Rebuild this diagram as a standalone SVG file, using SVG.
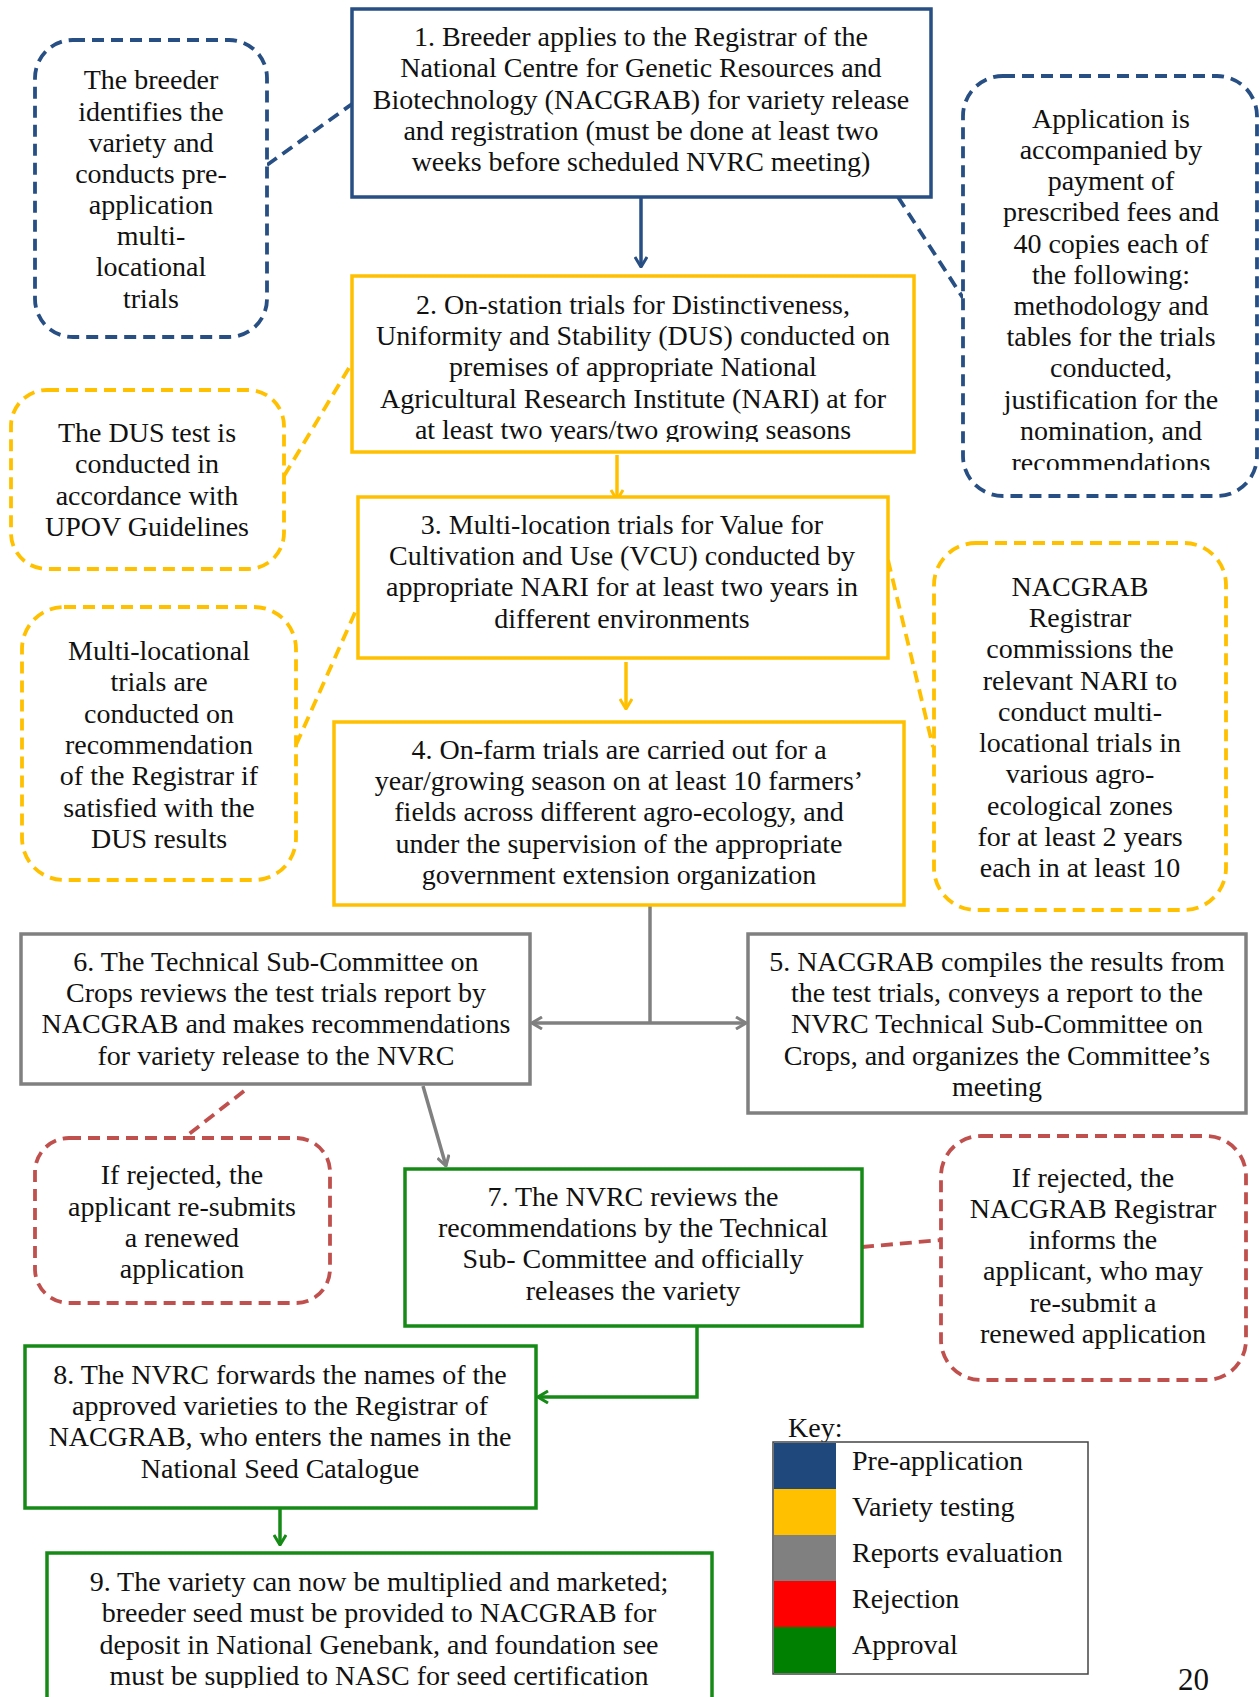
<svg xmlns="http://www.w3.org/2000/svg" width="1259" height="1697" viewBox="0 0 1259 1697">
<style>
.t{font-family:"Liberation Serif","DejaVu Serif",serif;font-size:28px;text-anchor:middle;fill:#111}
.k{font-family:"Liberation Serif","DejaVu Serif",serif;font-size:28px;fill:#111}
.bx{fill:#fff;stroke-width:3.5}
.nt{fill:#fff;stroke-width:3.8;stroke-dasharray:12 7}
.dl{fill:none;stroke-width:3.8;stroke-dasharray:12 7}
.ln{fill:none;stroke-width:3.5}
.blue{stroke:#274F83}
.yel{stroke:#FFC000}
.gry{stroke:#808080}
.grn{stroke:#168A16}
.red{stroke:#C0504D}
</style>
<defs>
<marker id="aB" viewBox="0 0 12 14" refX="11" refY="7" markerWidth="12" markerHeight="14" markerUnits="userSpaceOnUse" orient="auto"><path d="M1,1 L11,7 L1,13" fill="none" stroke="#274F83" stroke-width="3"/></marker>
<marker id="aY" viewBox="0 0 12 14" refX="11" refY="7" markerWidth="12" markerHeight="14" markerUnits="userSpaceOnUse" orient="auto"><path d="M1,1 L11,7 L1,13" fill="none" stroke="#FFC000" stroke-width="3"/></marker>
<marker id="aG" viewBox="0 0 12 14" refX="11" refY="7" markerWidth="12" markerHeight="14" markerUnits="userSpaceOnUse" orient="auto-start-reverse"><path d="M1,1 L11,7 L1,13" fill="none" stroke="#808080" stroke-width="3"/></marker>
<marker id="aN" viewBox="0 0 12 14" refX="11" refY="7" markerWidth="12" markerHeight="14" markerUnits="userSpaceOnUse" orient="auto"><path d="M1,1 L11,7 L1,13" fill="none" stroke="#168A16" stroke-width="3"/></marker>
<clipPath id="c2"><rect x="352" y="276" width="562" height="166"/></clipPath>
<clipPath id="cR"><rect x="963" y="76" width="294" height="394"/></clipPath>
<clipPath id="c9"><rect x="47" y="1553" width="665" height="135"/></clipPath>
</defs>
<rect width="1259" height="1697" fill="#fff"/>

<g id="connectors">
<line class="ln blue" x1="641" y1="197" x2="641" y2="267" marker-end="url(#aB)"/>
<line class="dl blue" x1="267" y1="165" x2="352" y2="104"/>
<line class="dl blue" x1="898" y1="197" x2="963" y2="298"/>
<line class="ln yel" x1="617" y1="455" x2="617" y2="500" marker-end="url(#aY)"/>
<line class="dl yel" x1="284" y1="476" x2="352" y2="363"/>
<line class="ln yel" x1="626" y1="662" x2="626" y2="709" marker-end="url(#aY)"/>
<line class="dl yel" x1="296" y1="745" x2="358" y2="606"/>
<line class="dl yel" x1="888" y1="560" x2="933" y2="747"/>
<line class="ln gry" x1="650" y1="905" x2="650" y2="1023"/>
<line class="ln gry" x1="532" y1="1023" x2="746" y2="1023" marker-start="url(#aG)" marker-end="url(#aG)"/>
<line class="ln gry" x1="423" y1="1086" x2="446" y2="1166" marker-end="url(#aG)"/>
<line class="dl red" x1="244" y1="1091" x2="184" y2="1138"/>
<line class="dl red" x1="862" y1="1247" x2="941" y2="1240"/>
<polyline class="ln grn" points="697,1326 697,1397 538,1397" marker-end="url(#aN)"/>
<line class="ln grn" x1="280" y1="1508" x2="280" y2="1545" marker-end="url(#aN)"/>
</g>

<g id="n1">
<rect class="bx blue" x="352" y="9" width="579" height="188"/>
<text class="t"><tspan x="641" y="46">1. Breeder applies to the Registrar of the</tspan><tspan x="641" y="77">National Centre for Genetic Resources and</tspan><tspan x="641" y="109">Biotechnology (NACGRAB) for variety release</tspan><tspan x="641" y="140">and registration (must be done at least two</tspan><tspan x="641" y="171">weeks before scheduled NVRC meeting)</tspan></text>
</g>

<g id="pre1">
<rect class="nt blue" x="35" y="40" width="232" height="297" rx="38"/>
<text class="t"><tspan x="151" y="89">The breeder</tspan><tspan x="151" y="121">identifies the</tspan><tspan x="151" y="152">variety and</tspan><tspan x="151" y="183">conducts pre-</tspan><tspan x="151" y="214">application</tspan><tspan x="151" y="245">multi-</tspan><tspan x="151" y="276">locational</tspan><tspan x="151" y="308">trials</tspan></text>
</g>

<g id="pre2">
<rect class="nt blue" x="963" y="76" width="294" height="420" rx="40"/>
<text class="t" clip-path="url(#cR)"><tspan x="1111" y="128">Application is</tspan><tspan x="1111" y="159">accompanied by</tspan><tspan x="1111" y="190">payment of</tspan><tspan x="1111" y="221">prescribed fees and</tspan><tspan x="1111" y="253">40 copies each of</tspan><tspan x="1111" y="284">the following:</tspan><tspan x="1111" y="315">methodology and</tspan><tspan x="1111" y="346">tables for the trials</tspan><tspan x="1111" y="377">conducted,</tspan><tspan x="1111" y="409">justification for the</tspan><tspan x="1111" y="440">nomination, and</tspan><tspan x="1111" y="472">recommendations</tspan></text>
</g>

<g id="n2">
<rect class="bx yel" x="352" y="276" width="562" height="176"/>
<text class="t" clip-path="url(#c2)"><tspan x="633" y="314">2. On-station trials for Distinctiveness,</tspan><tspan x="633" y="345">Uniformity and Stability (DUS) conducted on</tspan><tspan x="633" y="376">premises of appropriate National</tspan><tspan x="633" y="408">Agricultural Research Institute (NARI) at for</tspan><tspan x="633" y="439">at least two years/two growing seasons</tspan></text>
</g>

<g id="dus">
<rect class="nt yel" x="11" y="390" width="273" height="179" rx="36"/>
<text class="t"><tspan x="147" y="442">The DUS test is</tspan><tspan x="147" y="473">conducted in</tspan><tspan x="147" y="505">accordance with</tspan><tspan x="147" y="536">UPOV Guidelines</tspan></text>
</g>

<g id="n3">
<rect class="bx yel" x="358" y="497" width="530" height="161"/>
<text class="t"><tspan x="622" y="534">3. Multi-location trials for Value for</tspan><tspan x="622" y="565">Cultivation and Use (VCU) conducted by</tspan><tspan x="622" y="596">appropriate NARI for at least two years in</tspan><tspan x="622" y="628">different environments</tspan></text>
</g>

<g id="mlt">
<rect class="nt yel" x="22" y="607" width="274" height="273" rx="42"/>
<text class="t"><tspan x="159" y="660">Multi-locational</tspan><tspan x="159" y="691">trials are</tspan><tspan x="159" y="723">conducted on</tspan><tspan x="159" y="754">recommendation</tspan><tspan x="159" y="785">of the Registrar if</tspan><tspan x="159" y="817">satisfied with the</tspan><tspan x="159" y="848">DUS results</tspan></text>
</g>

<g id="nac">
<rect class="nt yel" x="934" y="543" width="292" height="367" rx="42"/>
<text class="t"><tspan x="1080" y="596">NACGRAB</tspan><tspan x="1080" y="627">Registrar</tspan><tspan x="1080" y="658">commissions the</tspan><tspan x="1080" y="690">relevant NARI to</tspan><tspan x="1080" y="721">conduct multi-</tspan><tspan x="1080" y="752">locational trials in</tspan><tspan x="1080" y="783">various agro-</tspan><tspan x="1080" y="815">ecological zones</tspan><tspan x="1080" y="846">for at least 2 years</tspan><tspan x="1080" y="877">each in at least 10</tspan></text>
</g>

<g id="n4">
<rect class="bx yel" x="334" y="722" width="570" height="183"/>
<text class="t"><tspan x="619" y="759">4. On-farm trials are carried out for a</tspan><tspan x="619" y="790">year/growing season on at least 10 farmers’</tspan><tspan x="619" y="821">fields across different agro-ecology, and</tspan><tspan x="619" y="853">under the supervision of the appropriate</tspan><tspan x="619" y="884">government extension organization</tspan></text>
</g>

<g id="n6">
<rect class="bx gry" x="21" y="934" width="509" height="150"/>
<text class="t"><tspan x="276" y="971">6. The Technical Sub-Committee on</tspan><tspan x="276" y="1002">Crops reviews the test trials report by</tspan><tspan x="276" y="1033">NACGRAB and makes recommendations</tspan><tspan x="276" y="1065">for variety release to the NVRC</tspan></text>
</g>

<g id="n5">
<rect class="bx gry" x="748" y="934" width="498" height="179"/>
<text class="t"><tspan x="997" y="971">5. NACGRAB compiles the results from</tspan><tspan x="997" y="1002">the test trials, conveys a report to the</tspan><tspan x="997" y="1033">NVRC Technical Sub-Committee on</tspan><tspan x="997" y="1065">Crops, and organizes the Committee’s</tspan><tspan x="997" y="1096">meeting</tspan></text>
</g>

<g id="rej1">
<rect class="nt red" x="35" y="1138" width="295" height="165" rx="34"/>
<text class="t"><tspan x="182" y="1184">If rejected, the</tspan><tspan x="182" y="1216">applicant re-submits</tspan><tspan x="182" y="1247">a renewed</tspan><tspan x="182" y="1278">application</tspan></text>
</g>

<g id="n7">
<rect class="bx grn" x="405" y="1169" width="457" height="157"/>
<text class="t"><tspan x="633" y="1206">7. The NVRC reviews the</tspan><tspan x="633" y="1237">recommendations by the Technical</tspan><tspan x="633" y="1268">Sub- Committee and officially</tspan><tspan x="633" y="1300">releases the variety</tspan></text>
</g>

<g id="rej2">
<rect class="nt red" x="941" y="1136" width="305" height="244" rx="40"/>
<text class="t"><tspan x="1093" y="1187">If rejected, the</tspan><tspan x="1093" y="1218">NACGRAB Registrar</tspan><tspan x="1093" y="1249">informs the</tspan><tspan x="1093" y="1280">applicant, who may</tspan><tspan x="1093" y="1312">re-submit a</tspan><tspan x="1093" y="1343">renewed application</tspan></text>
</g>

<g id="n8">
<rect class="bx grn" x="25" y="1346" width="511" height="162"/>
<text class="t"><tspan x="280" y="1384">8. The NVRC forwards the names of the</tspan><tspan x="280" y="1415">approved varieties to the Registrar of</tspan><tspan x="280" y="1446">NACGRAB, who enters the names in the</tspan><tspan x="280" y="1478">National Seed Catalogue</tspan></text>
</g>

<g id="n9">
<rect class="bx grn" x="47" y="1553" width="665" height="160"/>
<text class="t" clip-path="url(#c9)"><tspan x="379" y="1591">9. The variety can now be multiplied and marketed;</tspan><tspan x="379" y="1622">breeder seed must be provided to NACGRAB for</tspan><tspan x="379" y="1654">deposit in National Genebank, and foundation see</tspan><tspan x="379" y="1685">must be supplied to NASC for seed certification</tspan></text>
</g>

<g id="legend">
<text class="k" x="788" y="1437">Key:</text>
<rect x="773" y="1442" width="315" height="232" fill="#fff" stroke="#444" stroke-width="1.5"/>
<rect x="774" y="1443" width="62" height="46" fill="#1F497D"/>
<rect x="774" y="1489" width="62" height="46" fill="#FFC000"/>
<rect x="774" y="1535" width="62" height="46" fill="#808080"/>
<rect x="774" y="1581" width="62" height="46" fill="#FF0000"/>
<rect x="774" y="1627" width="62" height="46" fill="#008000"/>
<text class="k"><tspan x="852" y="1470">Pre-application</tspan><tspan x="852" y="1516">Variety testing</tspan><tspan x="852" y="1562">Reports evaluation</tspan><tspan x="852" y="1608">Rejection</tspan><tspan x="852" y="1654">Approval</tspan></text>
</g>
<text class="k" x="1178" y="1690" style="font-size:31px">20</text>
</svg>
